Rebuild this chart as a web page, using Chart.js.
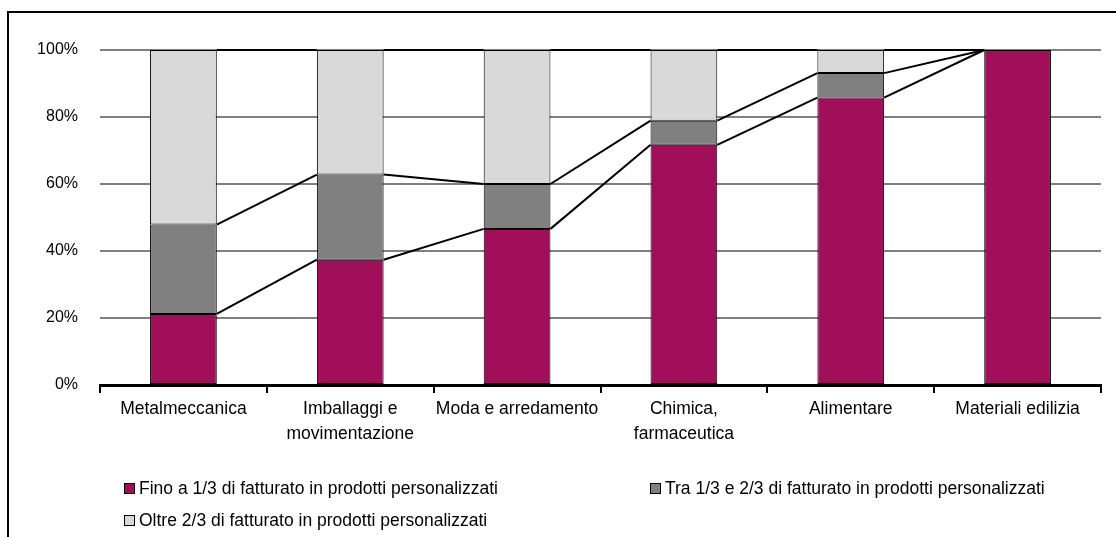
<!DOCTYPE html>
<html>
<head>
<meta charset="utf-8">
<script src="https://cdn.jsdelivr.net/npm/chart.js@4/dist/chart.umd.min.js"></script>
<style>
  body { margin: 0; background: #fff; }
  #wrap { position: relative; width: 1116px; height: 537px; overflow: hidden; }
  #frame { position: absolute; left: 7px; top: 11px; right: -10px; bottom: -10px; border-left: 2px solid #000; border-top: 2px solid #000; }
  #legend { position: absolute; left: 124px; top: 478px; width: 990px; display: grid; grid-template-columns: 526px 460px; row-gap: 12px;
            font: 17.5px "Liberation Sans", Arial, sans-serif; color: #000; }
  #legend div { display: flex; align-items: center; height: 20px; white-space: nowrap; }
  #legend span.box { width: 9px; height: 9px; border: 1px solid #000; margin-right: 4px; }
</style>
</head>
<body>
<div id="wrap">
  <canvas id="chart" width="1116" height="537"></canvas>
  <div id="frame"></div>
  <div id="legend"></div>
</div>
<script>
const categories = ['Metalmeccanica', ['Imballaggi e', 'movimentazione'], 'Moda e arredamento', ['Chimica,', 'farmaceutica'], 'Alimentare', 'Materiali edilizia'];
const fino = [21.2, 37.4, 46.6, 71.7, 85.8, 100];
const tra = [26.7, 25.4, 13.4, 7.2, 7.3, 0];
const oltre = [52.1, 37.2, 40.0, 21.1, 6.9, 0];
const seriesNames = [
    'Fino a 1/3 di fatturato in prodotti personalizzati',
    'Tra 1/3 e 2/3 di fatturato in prodotti personalizzati',
    'Oltre 2/3 di fatturato in prodotti personalizzati'
];
const seriesColors = ['#A10F5A', '#808080', '#D9D9D9'];
const yTicks = [0, 20, 40, 60, 80, 100];

const FONT = { family: '"Liberation Sans", Arial, sans-serif', size: 16 };

// Excel-style series lines joining stacked tops between neighbouring bars
const seriesLines = {
    id: 'seriesLines',
    afterDatasetsDraw(chart) {
        const ctx = chart.ctx;
        ctx.save();
        ctx.strokeStyle = '#000';
        ctx.lineWidth = 2;
        chart.data.datasets.forEach((ds, d) => {
            const bars = chart.getDatasetMeta(d).data;
            for (let i = 0; i < bars.length - 1; i++) {
                const a = bars[i], b = bars[i + 1];
                ctx.beginPath();
                ctx.moveTo(a.x + a.width / 2, a.y);
                ctx.lineTo(b.x - b.width / 2, b.y);
                ctx.stroke();
            }
        });
        ctx.restore();
    }
};

const datasets = [fino, tra, oltre].map((data, i) => ({
    label: seriesNames[i],
    data,
    backgroundColor: seriesColors[i],
    borderColor: '#000',
    borderWidth: 1,
    borderSkipped: false,
    categoryPercentage: 1,
    barPercentage: 0.4
}));

const chart = new Chart(document.getElementById('chart'), {
    type: 'bar',
    data: { labels: categories, datasets },
    plugins: [seriesLines],
    options: {
        responsive: false,
        animation: false,
        layout: { padding: { left: 0, right: 15, top: 50, bottom: 82 } },
        plugins: { legend: { display: false }, tooltip: { enabled: false } },
        scales: {
            x: {
                stacked: true,
                afterFit: s => { s.height = 70; },
                grid: { display: true, drawOnChartArea: false, drawTicks: true, tickLength: 8, color: '#000', lineWidth: 2 },
                border: { display: true, color: '#000', width: 3 },
                ticks: { color: '#000', font: { ...FONT, size: 17.5, lineHeight: 1.4 }, padding: 4, maxRotation: 0, autoSkip: false }
            },
            y: {
                stacked: true,
                min: 0,
                max: 100,
                afterFit: s => { s.width = 100; },
                afterBuildTicks: s => { s.ticks = yTicks.map(v => ({ value: v })); },
                grid: { color: '#808080', lineWidth: 2, drawTicks: false },
                border: { display: false },
                ticks: { color: '#000', font: FONT, padding: 22, callback: v => v + '%' }
            }
        }
    }
});

const legend = document.getElementById('legend');
chart.data.datasets.forEach(ds => {
    const item = document.createElement('div');
    const box = document.createElement('span');
    box.className = 'box';
    box.style.background = ds.backgroundColor;
    item.appendChild(box);
    item.appendChild(document.createTextNode(ds.label));
    legend.appendChild(item);
});
</script>
</body>
</html>
